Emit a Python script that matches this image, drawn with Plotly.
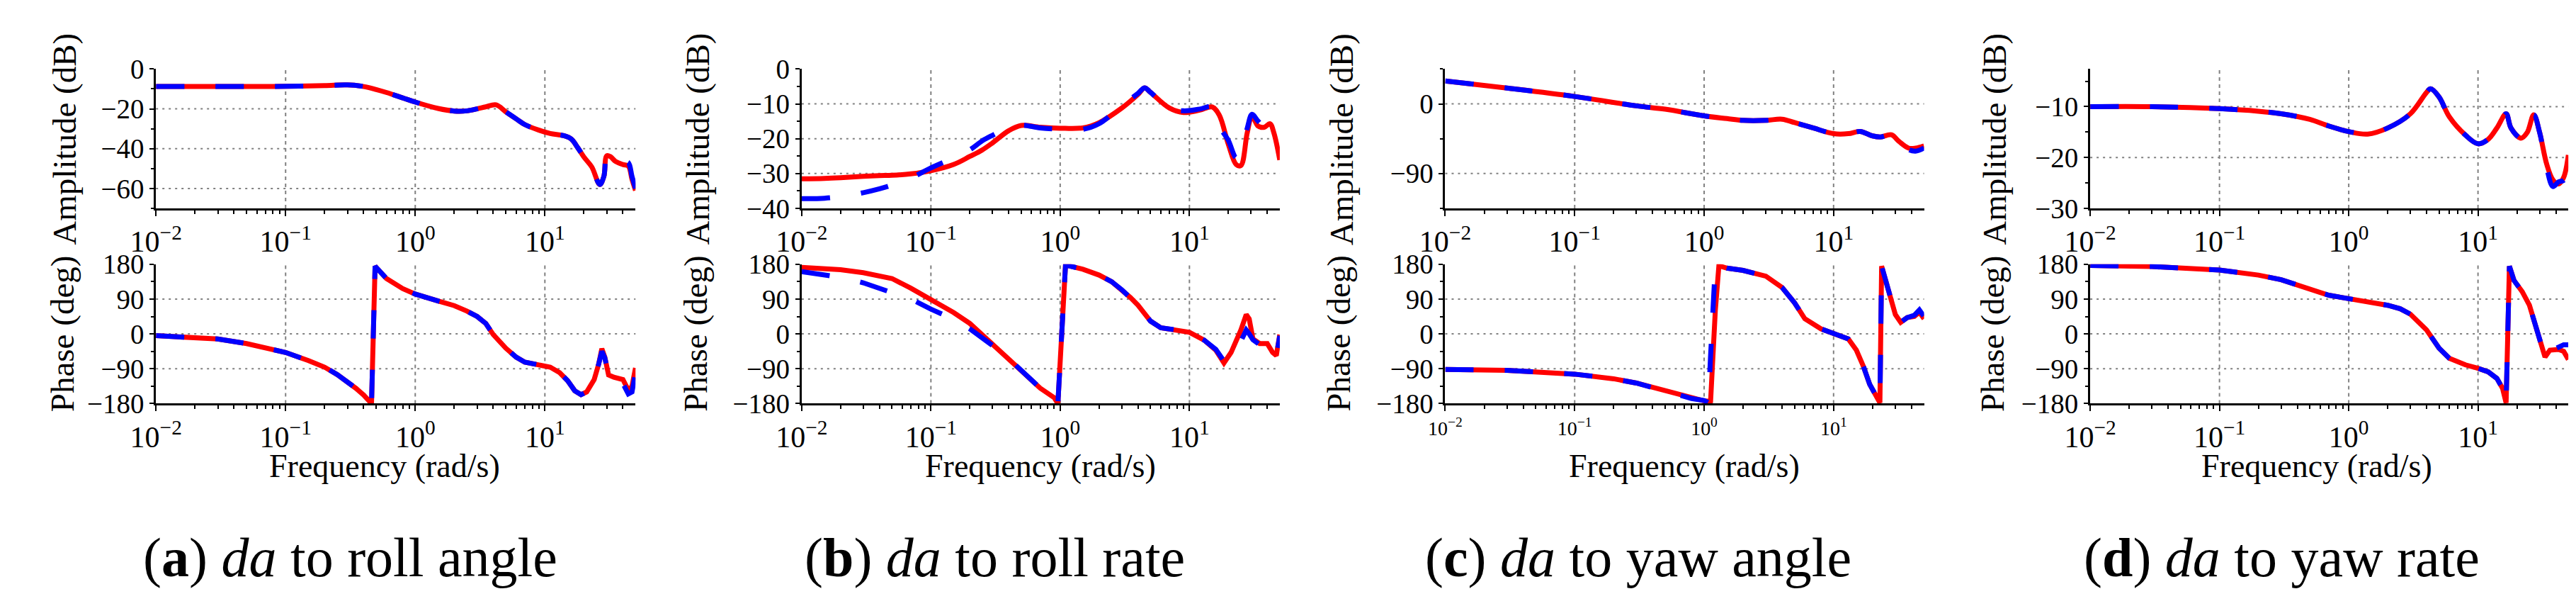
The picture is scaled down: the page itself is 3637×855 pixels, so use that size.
import math
import plotly.graph_objects as go
from plotly.subplots import make_subplots

W, H = 3637, 855
FONT = "Liberation Serif"

# ---- (a) da to roll angle ----
fa_amp = [0.01, 0.02, 0.05, 0.1, 0.2, 0.3, 0.4, 0.5, 0.6, 0.8, 1.0, 1.5, 2, 2.5, 3, 3.5, 4.2, 5, 6, 7, 9,
          11, 14, 16, 18, 20, 23, 26.5, 28.5, 30, 32, 35, 40, 44, 47, 50]
a_amp_red = [-8.8, -8.8, -8.8, -8.7, -8.3, -8.0, -8.8, -10.3, -11.8, -14.5, -16.6, -19.8, -21.1, -21.0, -20.0,
             -19.0, -18.0, -21.5, -25.0, -27.9, -30.7, -32.4, -33.5, -35.2, -39.7, -44.2, -49.2, -58.0, -54.0,
             -43.6, -44.0, -46.4, -48.0, -48.7, -55.4, -61.0]
a_amp_blue = [-8.8, -8.8, -8.8, -8.7, -8.3, -8.0, -8.8, -10.3, -11.8, -14.5, -16.6, -19.8, -21.1, -21.0, -20.0,
              -19.0, -18.0, -21.5, -25.0, -27.9, -30.7, -32.4, -33.5, -35.2, -39.7, -44.2, -49.2, -58.0, -54.0,
              -43.6, -44.0, -45.8, -46.7, -47.0, -54.0, -60.0]
fa_ph = [0.01, 0.02, 0.03, 0.05, 0.07, 0.1, 0.15, 0.2, 0.25, 0.3, 0.35, 0.4, 0.44, 0.46, 0.49, 0.52, 0.6, 0.8,
         1.0, 1.5, 2, 2.5, 3, 3.5, 4, 5, 6, 7, 9, 11, 13, 15, 17, 19, 21, 24, 26, 27.5, 29, 31, 34, 40, 44, 47,
         50]
a_ph_red = [-4.6, -9, -13, -25, -35, -48, -69, -86, -105, -124, -141, -158, -174, -180, 175, 165, 143, 117,
            103, 85, 73, 59, 45, 27, -2, -37, -60, -73, -81, -86, -100, -121, -147, -157, -150, -118, -78, -38,
            -60, -106, -112, -118, -145, -135, -88]
a_ph_blue = [-4.6, -9, -13, -25, -35, -48, -69, -86, -105, -124, -141, -158, -174, -180, 175, 165, 143, 117,
             103, 85, 73, 59, 45, 27, -2, -37, -60, -73, -81, -86, -100, -121, -147, -157, -150, -118, -78, -45,
             -62, -106, -118, -128, -155, -150, -100]

# ---- (b) da to roll rate ----
fb_amp = [0.01, 0.015, 0.02, 0.03, 0.04, 0.05, 0.07, 0.1, 0.15, 0.2, 0.25, 0.3, 0.4, 0.5, 0.7, 1.0, 1.5, 2, 3,
          4, 4.5, 5, 7, 9, 12, 15, 17, 20, 23, 25, 28, 30.5, 34, 38, 42, 45, 50]
b_amp_red = [-31.5, -31.4, -31.2, -30.8, -30.6, -30.5, -30.1, -29.2, -27.4, -25.1, -23.2, -21.2, -17.7, -16.2,
             -16.7, -17.0, -16.9, -15.4, -11.2, -7.3, -5.4, -6.7, -11.2, -12.5, -11.8, -10.9, -13.2, -21.6, -27.4,
             -27.7, -18.3, -13.5, -16.4, -16.7, -15.7, -18.3, -26.1]
b_amp_blue = [-37.2, -37.1, -36.6, -35.5, -34.4, -33.3, -31.3, -28.4, -25.5, -23.2, -20.6, -19.0, -16.8, -16.1,
              -16.9, -17.3, -17.3, -15.7, -10.5, -7.0, -5.4, -6.7, -11.2, -12.0, -11.5, -10.9, -16.4, -20.5,
              -25.5, -24.0, -17.0, -13.0, -15.0, -16.5, -16.0, -17.0, -17.5]
fb_ph = [0.01, 0.015, 0.02, 0.03, 0.04, 0.05, 0.07, 0.1, 0.15, 0.2, 0.25, 0.3, 0.4, 0.5, 0.7, 0.9, 0.96, 1.1,
         1.5, 2, 2.5, 3, 3.5, 4, 5, 6, 8, 10, 13, 16, 18.5, 21, 25, 27.5, 29, 31, 35, 40, 44, 47, 50]
b_ph_red = [172, 169, 166, 158, 151, 143, 118, 88, 55, 27, -2, -25, -62, -95, -140, -165, -180, 178, 167, 152,
            135, 114, 94, 74, 33, 16, 10, 4, -16, -42, -75, -48, 10, 50, 39, -13, -25, -25, -48, -56, -2]
b_ph_blue = [161, 152, 146, 132, 117, 107, 90, 64, 38, 13, -10, -30, -64, -95, -140, -165, -180, 178, 167, 152,
             135, 114, 94, 74, 33, 16, 10, 4, -16, -40, -70, -55, -19, 10, 0, -15, -28, -34, -48, -58, -5]

# ---- (c) da to yaw angle ----
fc_amp = [0.01, 0.03, 0.1, 0.3, 0.5, 1, 1.5, 2, 3, 4, 5, 7, 10, 13, 16, 20, 23, 28, 32, 38, 43, 50]
c_amp_red = [29.6, 20.4, 9.5, -2.6, -6.9, -15.5, -19.0, -21.3, -21.3, -19.8, -24.2, -31.3, -38.5, -38.5, -35.7,
             -41.4, -42.8, -40.0, -48.6, -57.2, -57.2, -54.3]
c_amp_blue = [29.6, 20.4, 9.5, -2.6, -6.9, -15.5, -19.0, -21.3, -21.3, -19.8, -24.2, -31.3, -38.5, -38.5, -35.7,
              -41.4, -42.8, -40.0, -48.6, -59.0, -61.0, -57.0]
fc_ph = [0.01, 0.03, 0.1, 0.2, 0.3, 0.5, 0.8, 1.0, 1.08, 1.12, 1.22, 1.3, 1.5, 2, 3, 4, 5, 6, 8, 10, 13, 15, 17,
         19, 21, 22.8, 23.5, 26, 28, 30, 33, 37, 42, 46, 50]
c_ph_red = [-92, -94, -104, -116, -127, -147, -167, -173, -174, -178, 60, 176, 170, 164, 149, 120, 80, 39, 13, 1,
            -13, -42, -84, -130, -158, -178, 175, 126, 80, 50, 30, 42, 45, 56, 39]
c_ph_blue = [-92, -94, -104, -116, -127, -147, -167, -172, -178, -60, 178, 176, 170, 164, 149, 120, 80, 39, 13, 1,
             -13, -42, -84, -130, -158, -178, 175, 126, 80, 50, 30, 42, 48, 62, 45]

# ---- (d) da to yaw rate ----
fd_amp = [0.01, 0.03, 0.1, 0.2, 0.3, 0.5, 0.7, 1.0, 1.4, 2, 3, 4, 4.3, 5, 6, 8, 10, 12, 14, 16.5, 18, 21.5, 24,
          27, 30, 34, 38, 42, 46, 50]
d_amp_red = [-10.0, -10.0, -10.4, -10.9, -11.4, -12.5, -13.8, -14.9, -15.4, -14.2, -11.4, -7.2, -6.5, -8.1, -12.0,
             -15.6, -17.3, -16.4, -14.2, -11.4, -14.2, -16.2, -15.1, -11.6, -15.1, -21.3, -24.4, -25.2, -23.9,
             -19.5]
d_amp_blue = [-10.0, -10.0, -10.4, -10.9, -11.4, -12.5, -13.8, -14.9, -15.4, -14.2, -11.4, -7.2, -6.5, -8.1, -12.0,
              -15.6, -17.3, -16.4, -14.2, -11.4, -14.2, -16.2, -15.1, -11.6, -15.1, -22.0, -25.7, -24.8, -24.5,
              -23.0]
fd_ph = [0.01, 0.03, 0.1, 0.2, 0.3, 0.5, 0.7, 1.0, 1.5, 2, 2.5, 3, 4, 5, 6, 8, 10, 12, 14, 15.5, 16.5, 17.5, 19,
         22, 25, 28, 30, 33, 36, 42, 46, 50]
d_ph_red = [177, 174, 165, 152, 140, 117, 100, 91, 82, 74, 65, 51, 10, -37, -63, -80, -89, -98, -115, -141, -178,
            175, 138, 109, 74, 16, -19, -60, -42, -40, -45, -66]
d_ph_blue = [177, 174, 165, 152, 140, 117, 100, 91, 82, 74, 65, 51, 10, -37, -63, -80, -89, -98, -115, -141, -178,
             175, 138, 109, 74, 16, -19, -60, -45, -34, -28, -28]

captions = ["(<b>a</b>) <i>da</i> to roll angle", "(<b>b</b>) <i>da</i> to roll rate",
            "(<b>c</b>) <i>da</i> to yaw angle", "(<b>d</b>) <i>da</i> to yaw rate"]
amp_ranges = [[-70, 0], [-40, 0], [-135, 45], [-30, -2.6]]
amp_ticks = [[0, -20, -40, -60], [0, -10, -20, -30, -40], [0, -90], [-10, -20, -30]]
amp_minor = [[-10, -30, -50, -70], [-5, -15, -25, -35], [45, -45, -135], [-5, -15, -25]]
phase_range = [-180, 180]
phase_ticks = [180, 90, 0, -90, -180]
phase_minor = [135, 45, -45, -135]
freq_range = [0.01, 50]
freq_ticks = [0.01, 0.1, 1, 10]
freq_text = ["10<sup>\u22122</sup>", "10<sup>\u22121</sup>", "10<sup>0</sup>", "10<sup>1</sup>"]
freq_minor = [m * 10 ** e for e in range(-2, 2) for m in range(2, 10) if m * 10 ** e < 50]

data = [
    (fa_amp, a_amp_red, a_amp_blue, fa_ph, a_ph_red, a_ph_blue),
    (fb_amp, b_amp_red, b_amp_blue, fb_ph, b_ph_red, b_ph_blue),
    (fc_amp, c_amp_red, c_amp_blue, fc_ph, c_ph_red, c_ph_blue),
    (fd_amp, d_amp_red, d_amp_blue, fd_ph, d_ph_red, d_ph_blue),
]

# pixel layout of the four panels
x_px = [(177, 861), (1098, 1780), (2016, 2699), (2936, 3618)]
amp_px = (72, 279)
ph_px = (362, 569)
ylab_px = [47, 950, 1868, 2800]
freq_px = [503, 1439, 2357, 3259]
cap_px = [454, 1373, 2291, 3209]


def px(v):
    return v / W


def py(v):
    return 1 - v / H


fig = make_subplots(rows=2, cols=4)

red = dict(color="#ff0000", width=7)
blue = dict(color="#0000ff", width=7, dash="40px,44px")

for i, (fam, ar, ab, fph, pr, pb) in enumerate(data):
    col = i + 1
    fig.add_trace(go.Scatter(x=fam, y=ar, mode="lines", line=red, line_shape="spline"), row=1, col=col)
    fig.add_trace(go.Scatter(x=fam, y=ab, mode="lines", line=blue, line_shape="spline"), row=1, col=col)
    fig.add_trace(go.Scatter(x=fph, y=pr, mode="lines", line=red), row=2, col=col)
    fig.add_trace(go.Scatter(x=fph, y=pb, mode="lines", line=blue), row=2, col=col)

common_x = dict(
    type="log", range=[math.log10(freq_range[0]), math.log10(freq_range[1])],
    tickvals=freq_ticks, ticktext=freq_text,
    ticks="outside", ticklen=8, tickwidth=2, tickcolor="black",
    showline=True, linewidth=3, linecolor="black", mirror=False,
    showgrid=False, zeroline=False,
    minor=dict(tickvals=freq_minor, ticks="outside", ticklen=5, tickwidth=2, tickcolor="black", showgrid=False),
    tickfont=dict(family=FONT, size=42, color="black"),
)
common_y = dict(
    ticks="outside", ticklen=6, tickwidth=2, tickcolor="black",
    showline=True, linewidth=3, linecolor="black", mirror=False,
    showgrid=False, zeroline=False,
    tickfont=dict(family=FONT, size=39, color="black"),
)

GRID = "#808080"
shapes = []


def add_grid(xr, yr, yticks, yrange):
    # vertical dashed lines at the inner decades, horizontal dotted lines at inner y ticks
    for t in freq_ticks:
        if freq_range[0] < t < freq_range[1]:
            shapes.append(dict(type="line", xref=xr, yref=f"{yr} domain", x0=t, x1=t, y0=0, y1=1,
                               line=dict(color=GRID, width=2, dash="5px,5px"), layer="below"))
    lo, hi = min(yrange), max(yrange)
    for v in yticks:
        if lo < v < hi:
            shapes.append(dict(type="line", xref=f"{xr} domain", yref=yr, x0=0, x1=1, y0=v, y1=v,
                               line=dict(color=GRID, width=2, dash="3px,6px"), layer="below"))


for i in range(4):
    n_top = i + 1
    n_bot = i + 5
    xd = [px(x_px[i][0]), px(x_px[i][1])]
    sx_top = "xaxis" if n_top == 1 else f"xaxis{n_top}"
    sy_top = "yaxis" if n_top == 1 else f"yaxis{n_top}"
    fig.layout[sx_top].update(domain=xd, **common_x)
    fig.layout[sy_top].update(
        domain=[py(amp_px[1]), py(amp_px[0])], range=amp_ranges[i], tickvals=amp_ticks[i],
        minor=dict(tickvals=amp_minor[i], ticks="outside", ticklen=4, tickwidth=2, tickcolor="black",
                   showgrid=False),
        **common_y)
    fig.layout[f"xaxis{n_bot}"].update(domain=xd, **common_x)
    fig.layout[f"yaxis{n_bot}"].update(
        domain=[py(ph_px[1]), py(ph_px[0])], range=phase_range, tickvals=phase_ticks,
        minor=dict(tickvals=phase_minor, ticks="outside", ticklen=4, tickwidth=2, tickcolor="black",
                   showgrid=False),
        **common_y)
    xr_top = "x" if n_top == 1 else f"x{n_top}"
    yr_top = "y" if n_top == 1 else f"y{n_top}"
    add_grid(xr_top, yr_top, amp_ticks[i], amp_ranges[i])
    add_grid(f"x{n_bot}", f"y{n_bot}", phase_ticks, phase_range)

# smaller tick labels on the phase plot of panel (c)
fig.layout["xaxis7"].tickfont.size = 28

ann = []
for i in range(4):
    ann.append(dict(text="Amplitude (dB)", x=px(ylab_px[i]), y=py(176), textangle=-90,
                    font=dict(family=FONT, size=47, color="black")))
    ann.append(dict(text="Phase (deg)", x=px(ylab_px[i] - 4), y=py(465), textangle=-90,
                    font=dict(family=FONT, size=47, color="black")))
    ann.append(dict(text="Frequency (rad/s)", x=px(freq_px[i]), y=py(662),
                    font=dict(family=FONT, size=46, color="black")))
    ann.append(dict(text=captions[i], x=px(cap_px[i]), y=py(798),
                    font=dict(family=FONT, size=78, color="black")))
for a in ann:
    a.update(xref="paper", yref="paper", showarrow=False, xanchor="center", yanchor="middle")

fig.update_layout(
    width=W, height=H, autosize=False,
    margin=dict(l=0, r=0, t=0, b=0),
    paper_bgcolor="white", plot_bgcolor="white",
    showlegend=False, annotations=ann, shapes=shapes,
    font=dict(family=FONT, color="black"),
)

fig.write_html("out.html")
